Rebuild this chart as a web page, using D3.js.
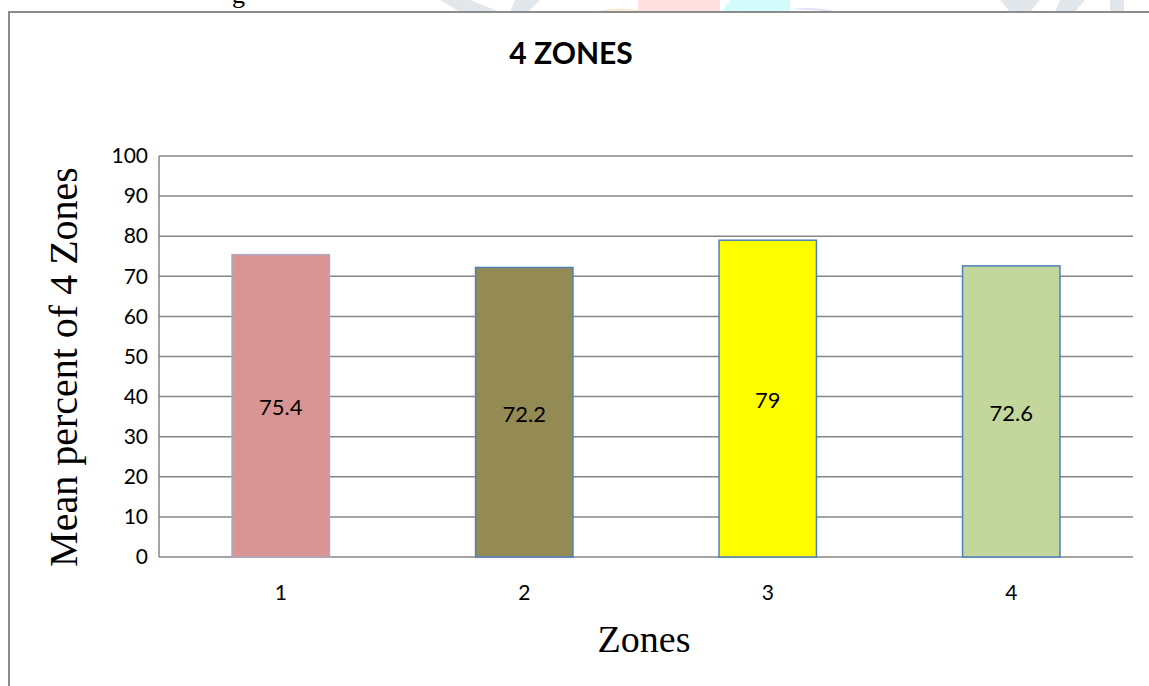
<!DOCTYPE html>
<html>
<head>
<meta charset="utf-8">
<script src="https://cdn.jsdelivr.net/npm/d3@7"></script>
<style>
  body { margin: 0; background: #fff; }
  svg { display: block; }
</style>
</head>
<body>
<div id="chart"></div>
<script>
const zones = ['1', '2', '3', '4'];
const means = [75.4, 72.2, 79, 72.6];
const fills = ['#d99594', '#948a54', '#ffff00', '#c3d69b'];
const strokes = ['#b0a8c0', '#4f81bd', '#4f81bd', '#4f81bd'];
const yTicks = [0, 10, 20, 30, 40, 50, 60, 70, 80, 90, 100];

const width = 1149;
const height = 686;
const plot = {left: 159, right: 1133, top: 156, bottom: 557};

const svg = d3.select('#chart').append('svg')
    .attr('width', width)
    .attr('height', height);

// faint page bits above the chart frame (cut-off text / watermark)
const wm = svg.append('g').attr('opacity', 0.22);
wm.append('path').attr('d', 'M440,0 L470,0 L500,12 L460,12 Z').attr('fill', '#7f97a8');
wm.append('path').attr('d', 'M515,0 L540,0 L528,12 L510,12 Z').attr('fill', '#7f97a8');
wm.append('rect').attr('x', 638).attr('y', 0).attr('width', 82).attr('height', 12).attr('fill', '#ff7070');
wm.append('path').attr('d', 'M730,0 L790,0 L790,12 L722,12 Z').attr('fill', '#40f0f0');
wm.append('path').attr('d', 'M595,12 Q615,6 638,10 L638,12 Z').attr('fill', '#f0a040');
wm.append('path').attr('d', 'M790,9 Q815,6 840,12 Z').attr('fill', '#8080e0');
wm.append('path').attr('d', 'M1000,0 L1040,0 L1030,12 L1010,12 Z').attr('fill', '#7f97a8');
wm.append('path').attr('d', 'M1060,0 L1085,0 L1075,12 L1055,12 Z').attr('fill', '#7f97a8');
wm.append('rect').attr('x', 1110).attr('y', 0).attr('width', 14).attr('height', 12).attr('fill', '#7f97a8');
svg.append('text')
    .attr('x', 232).attr('y', 3)
    .attr('font-family', 'Liberation Serif, serif')
    .attr('font-size', 26)
    .text('g');

// chart frame
svg.append('rect')
    .attr('x', 9).attr('y', 12)
    .attr('width', width + 20).attr('height', height + 20)
    .attr('fill', 'none')
    .attr('stroke', '#8c8c8c')
    .attr('stroke-width', 2);

const x = d3.scaleBand()
    .domain(zones)
    .range([plot.left, plot.right])
    .paddingInner(0.6)
    .paddingOuter(0.3);

const y = d3.scaleLinear()
    .domain([0, 100])
    .range([plot.bottom, plot.top]);

// gridlines
svg.append('g')
    .selectAll('line')
    .data(yTicks)
    .enter()
    .append('line')
    .attr('x1', plot.left)
    .attr('x2', plot.right)
    .attr('y1', d => y(d))
    .attr('y2', d => y(d))
    .attr('stroke', '#868686')
    .attr('stroke-width', 1.5);

// left axis line
svg.append('line')
    .attr('x1', plot.left).attr('x2', plot.left)
    .attr('y1', plot.top).attr('y2', plot.bottom)
    .attr('stroke', '#868686')
    .attr('stroke-width', 1.5);

// y axis labels
const yAxis = svg.append('g')
    .attr('transform', 'translate(' + (plot.left - 11) + ',0)')
    .call(d3.axisLeft(y).tickValues(yTicks).tickSize(0).tickPadding(0));
yAxis.select('.domain').remove();
yAxis.selectAll('text')
    .attr('font-family', 'Lato, sans-serif')
    .attr('font-size', 21)
    .attr('fill', '#000');

// x axis labels
const xAxis = svg.append('g')
    .attr('transform', 'translate(0,' + (plot.bottom + 28) + ')')
    .call(d3.axisBottom(x).tickSize(0).tickPadding(0));
xAxis.select('.domain').remove();
xAxis.selectAll('text')
    .attr('font-family', 'Lato, sans-serif')
    .attr('font-size', 21)
    .attr('fill', '#000');

// bars
svg.append('g')
    .selectAll('rect')
    .data(means)
    .enter()
    .append('rect')
    .attr('x', (d, i) => x(zones[i]))
    .attr('y', d => y(d))
    .attr('width', x.bandwidth())
    .attr('height', d => plot.bottom - y(d))
    .attr('fill', (d, i) => fills[i])
    .attr('stroke', (d, i) => strokes[i])
    .attr('stroke-width', 1.5);

// value labels
svg.append('g')
    .selectAll('text')
    .data(means)
    .enter()
    .append('text')
    .attr('x', (d, i) => x(zones[i]) + x.bandwidth() / 2)
    .attr('y', d => (y(d) + plot.bottom) / 2 + 4)
    .attr('text-anchor', 'middle')
    .attr('dominant-baseline', 'middle')
    .attr('font-family', 'Lato, sans-serif')
    .attr('font-size', 22)
    .text(d => d);

// title
svg.append('text')
    .attr('x', 571).attr('y', 64)
    .attr('text-anchor', 'middle')
    .attr('font-family', 'Lato, sans-serif')
    .attr('font-weight', 'bold')
    .attr('font-size', 30)
    .text('4 ZONES');

// axis titles
svg.append('text')
    .attr('x', 644).attr('y', 652)
    .attr('text-anchor', 'middle')
    .attr('font-family', 'Liberation Serif, serif')
    .attr('font-size', 38)
    .text('Zones');

svg.append('text')
    .attr('transform', 'translate(77,' + 367 + ') rotate(-90)')
    .attr('text-anchor', 'middle')
    .attr('font-family', 'Liberation Serif, serif')
    .attr('font-size', 40)
    .text('Mean percent of 4 Zones');
</script>
</body>
</html>
